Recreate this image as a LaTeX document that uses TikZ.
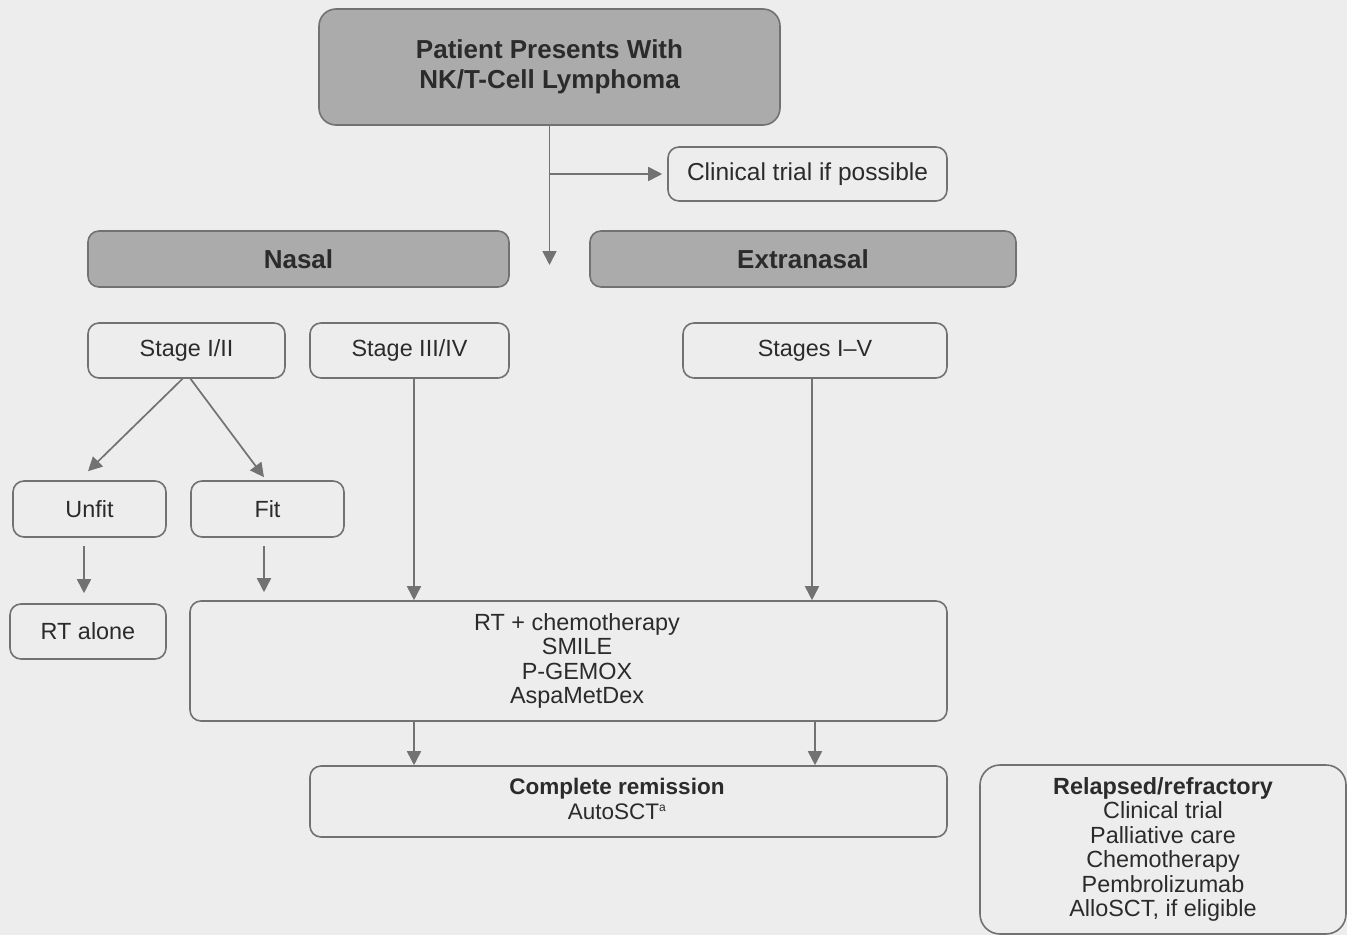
\documentclass[tikz,border=0pt]{standalone}
\usepackage{fontspec}
\setmainfont{Liberation Sans}
\usetikzlibrary{arrows.meta,calc}
\definecolor{bg}{HTML}{EDEDED}
\definecolor{boxgray}{HTML}{ABABAB}
\definecolor{edge}{HTML}{727272}
\definecolor{ink}{HTML}{2B2B2B}
\tikzset{
  box/.style={draw=edge, line width=1.6pt, rounded corners=11pt, fill=bg, text=ink,
    inner sep=0pt, align=center, font=\fontsize{23.4}{24.5}\selectfont},
  graybox/.style={box, fill=boxgray, font=\bfseries\fontsize{26}{30}\selectfont},
  arr/.style={draw=edge, line width=1.7pt, -{Triangle[length=14pt,width=14pt]}}
}
\begin{document}
\begin{tikzpicture}[x=1pt,y=-1pt]
\fill[bg] (0,0) rectangle (1347,935);
\useasboundingbox (0,0) rectangle (1347,935);

\node[graybox, rounded corners=17pt, minimum width=461pt, minimum height=116pt] (top) at (549.5,67) {Patient Presents With\\NK/T-Cell Lymphoma};
\node[box, minimum width=279pt, minimum height=54pt, font=\fontsize{24.5}{26}\selectfont] (clin) at (807.5,174) {Clinical trial if possible};
\node[graybox, minimum width=421pt, minimum height=56pt] (nasal) at (298.5,259) {Nasal};
\node[graybox, minimum width=426pt, minimum height=56pt] (extra) at (803,259) {Extranasal};

\node[box, minimum width=197pt, minimum height=55pt] (s12) at (186.5,350.5) {Stage I/II};
\node[box, minimum width=199pt, minimum height=55pt] (s34) at (409.5,350.5) {Stage III/IV};
\node[box, minimum width=264pt, minimum height=55pt] (s15) at (815,350.5) {Stages I–V};

\node[box, minimum width=153pt, minimum height=56pt] (unfit) at (89.5,509) {Unfit};
\node[box, minimum width=153pt, minimum height=56pt] (fit) at (267.5,509) {Fit};
\node[box, minimum width=156pt, minimum height=55pt] (rtalone) at (88,631.5) {RT alone};

\node[box, minimum width=757pt, minimum height=120pt] (rtchemo) at (568.5,661) {};
\node[box, draw=none, fill=none] (rtchemotxt) at (577,661) {RT + chemotherapy\\SMILE\\P-GEMOX\\AspaMetDex};

\node[box, minimum width=637pt, minimum height=71pt] (cr) at (628.5,801.5) {};
\node[box, draw=none, fill=none, font=\fontsize{22.5}{24.5}\selectfont] (crtxt) at (617,799) {{\bfseries Complete remission}\\AutoSCT\textsuperscript{\fontsize{12}{12}\selectfont a}};

\node[box, rounded corners=20pt, minimum width=366pt, minimum height=169pt] (rel) at (1163,849.5) {{\bfseries Relapsed/refractory}\\Clinical trial\\Palliative care\\Chemotherapy\\Pembrolizumab\\AlloSCT, if eligible};

% connectors
\coordinate (split) at (top.south |- nasal.center);
\coordinate (branch) at (top.south |- clin.west);
\draw[arr, shorten >=-6pt] (top.south) -- (split);
\draw[arr, shorten >=5pt] (branch) -- (clin.west);

\draw[arr] ([xshift=-4pt]s12.south) -- ([shift={(-1.5pt,9pt)}]unfit.north);
\draw[arr] ([xshift=4pt]s12.south) -- ([shift={(-3.5pt,3pt)}]fit.north);

\draw[arr, shorten <=8pt, shorten >=10pt] ([xshift=-5.5pt]unfit.south) -- ([xshift=-4pt]rtalone.north);
\draw[arr, shorten <=8pt, shorten >=8pt] ([xshift=-3.5pt]fit.south) -- ([xshift=-3.5pt]fit.south |- rtchemo.north);

\draw[arr] ([xshift=4.5pt]s34.south) -- ([xshift=4.5pt]s34.south |- rtchemo.north);
\draw[arr] ([xshift=-3pt]s15.south) -- ([xshift=-3pt]s15.south |- rtchemo.north);

\draw[arr] (rtchemo.south -| s34.south) ++(4.5pt,0) coordinate (c1) -- (c1 |- cr.north);
\draw[arr] (rtchemo.south -| s15.south) coordinate (c2) -- (c2 |- cr.north);
\end{tikzpicture}
\end{document}
